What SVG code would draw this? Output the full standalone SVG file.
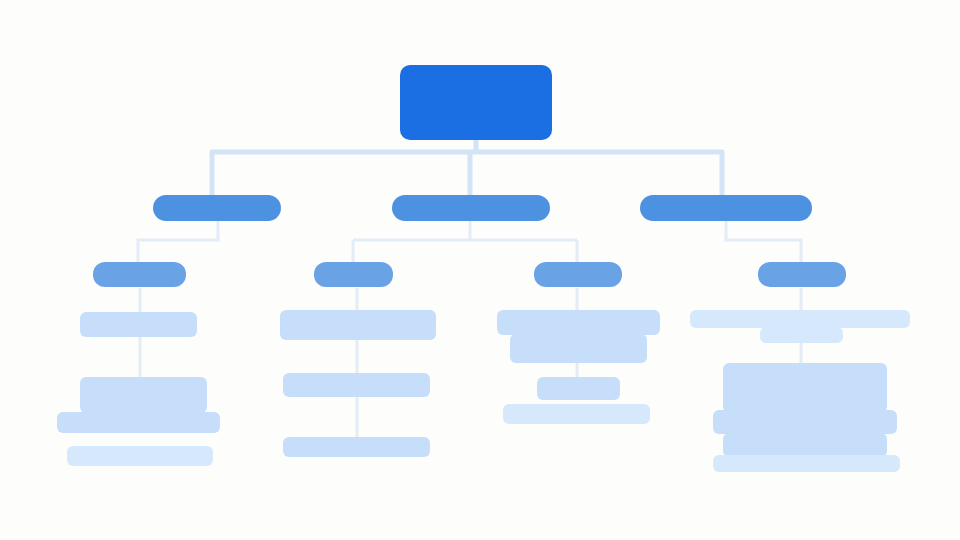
<svg xmlns="http://www.w3.org/2000/svg" width="960" height="540" viewBox="0 0 960 540">
  <style>
    .conn { stroke: #d3e4f6; stroke-width: 5; fill: none; stroke-linecap: round; }
    .conn2 { stroke: #e2edf8; stroke-width: 3; fill: none; }
    .root { fill: #1b6fe2; }
    .l2 { fill: #4d92e0; }
    .l3 { fill: #69a3e6; }
    .leaf { fill: #c6def9; }
    .leaf2 { fill: #d6e8fb; }
  </style>
  <rect x="0" y="0" width="960" height="540" fill="#fdfdfb"/>
  <g id="connectors">
    <path class="conn" d="M476 140 V152 M212 152 H722 M212 152 V196 M470 152 V196 M722 152 V196"/>
    <path class="conn2" d="M218 220 V240 H138 V262 M470 220 V240 M353 240 H577 M353 240 V262 M577 240 V262 M726 220 V240 H801 V262"/>
    <path class="conn2" d="M140 288 V312 M140 337 V377 M357 288 V310 M357 340 V373 M357 397 V437 M577 288 V310 M577 363 V377 M801 288 V310 M801 343 V363"/>
  </g>
  <g id="root">
    <rect class="root" x="400" y="65" width="152" height="75" rx="10"/>
  </g>
  <g id="level2-left"><rect class="l2" x="153" y="195" width="128" height="26" rx="13"/></g>
  <g id="level2-mid"><rect class="l2" x="392" y="195" width="158" height="26" rx="13"/></g>
  <g id="level2-right"><rect class="l2" x="640" y="195" width="172" height="26" rx="13"/></g>
  <g id="level3-1"><rect class="l3" x="93" y="262" width="93" height="25" rx="12"/></g>
  <g id="level3-2"><rect class="l3" x="314" y="262" width="79" height="25" rx="12"/></g>
  <g id="level3-3"><rect class="l3" x="534" y="262" width="88" height="25" rx="12"/></g>
  <g id="level3-4"><rect class="l3" x="758" y="262" width="88" height="25" rx="12"/></g>
  <g id="leaf-1a"><rect class="leaf" x="80" y="312" width="117" height="25" rx="6"/></g>
  <g id="leaf-1b">
    <rect class="leaf" x="80" y="377" width="127" height="36" rx="6"/>
    <rect class="leaf" x="57" y="412" width="163" height="21" rx="6"/>
    <rect class="leaf2" x="67" y="446" width="146" height="20" rx="6"/>
  </g>
  <g id="leaf-2a"><rect class="leaf" x="280" y="310" width="156" height="30" rx="6"/></g>
  <g id="leaf-2b"><rect class="leaf" x="283" y="373" width="147" height="24" rx="6"/></g>
  <g id="leaf-2c"><rect class="leaf" x="283" y="437" width="147" height="20" rx="6"/></g>
  <g id="leaf-3a">
    <rect class="leaf" x="497" y="310" width="163" height="25" rx="6"/>
    <rect class="leaf" x="510" y="334" width="137" height="29" rx="6"/>
  </g>
  <g id="leaf-3b">
    <rect class="leaf" x="537" y="377" width="83" height="23" rx="6"/>
    <rect class="leaf2" x="503" y="404" width="147" height="20" rx="6"/>
  </g>
  <g id="leaf-4a">
    <rect class="leaf2" x="690" y="310" width="220" height="18" rx="6"/>
    <rect class="leaf2" x="760" y="327" width="83" height="16" rx="6"/>
  </g>
  <g id="leaf-4b">
    <rect class="leaf" x="723" y="363" width="164" height="50" rx="6"/>
    <rect class="leaf" x="713" y="410" width="184" height="24" rx="6"/>
    <rect class="leaf" x="723" y="433" width="164" height="24" rx="6"/>
    <rect class="leaf2" x="713" y="455" width="187" height="17" rx="6"/>
  </g>
</svg>
